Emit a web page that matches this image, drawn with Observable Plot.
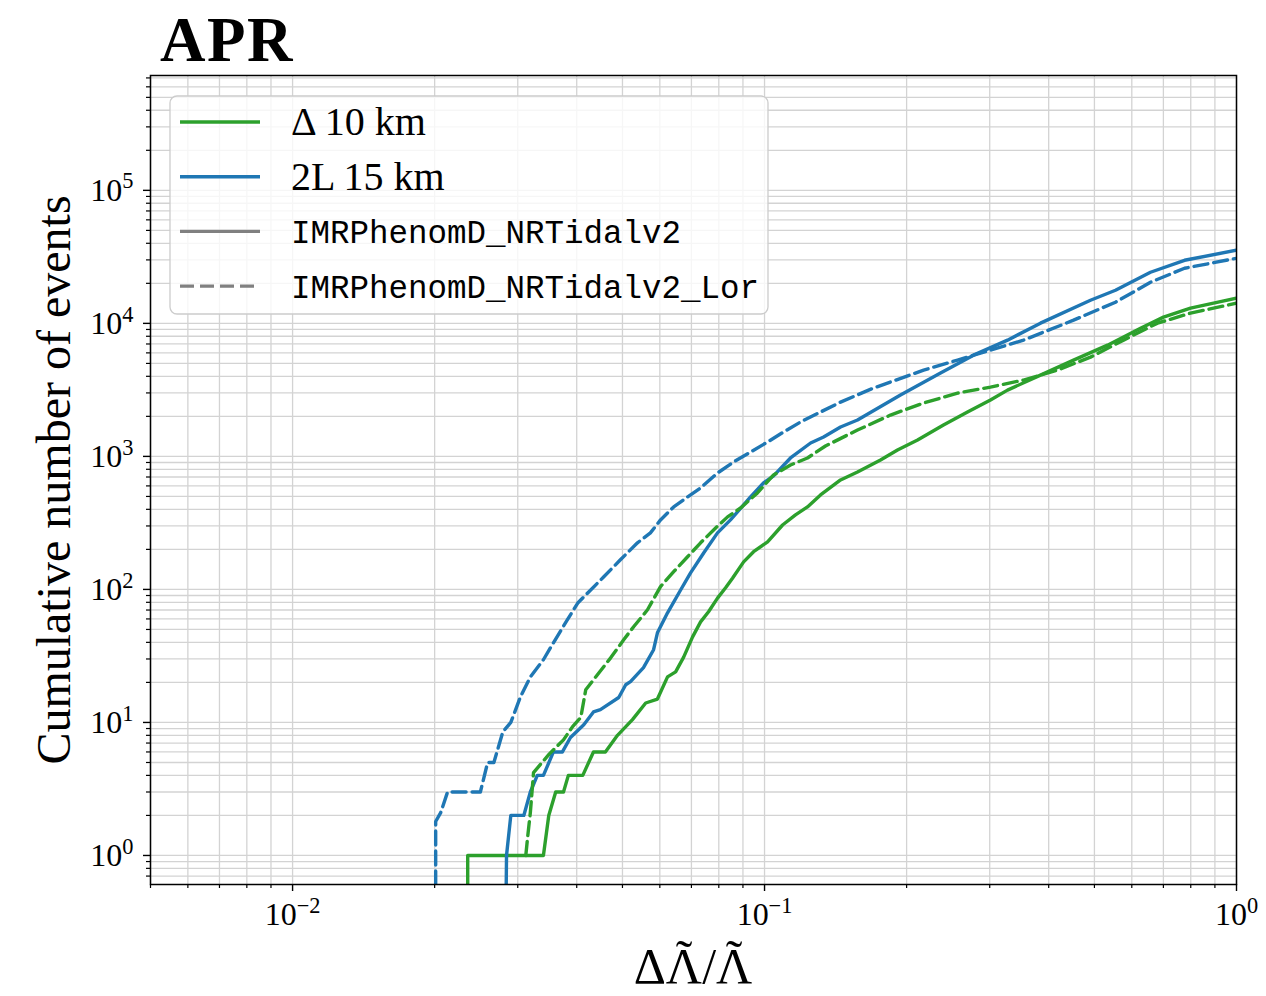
<!DOCTYPE html>
<html>
<head>
<meta charset="utf-8">
<script src="https://cdn.jsdelivr.net/npm/d3@7"></script>
<script src="https://cdn.jsdelivr.net/npm/@observablehq/plot@0.6"></script>
<style>
  body { margin: 0; background: #fff; }
  #title { height: 71px; box-sizing: border-box; padding-top: 9px; padding-left: 160px;
           font: bold 63px "Liberation Serif", serif; line-height: 63px; color: #000; letter-spacing: 1.5px; }
  #chart svg { display: block; }
</style>
</head>
<body>
<div id="title">APR</div>
<div id="chart"></div>
<script>
// ---------- data ----------
const greenSolidX = [0.0235,0.0235,0.0340,0.0349,0.0361,0.0375,0.0384,0.0412,0.0434,0.0460,0.0488,0.0525,0.0560,0.0593,0.0623,0.0648,0.0674,0.0704,0.0732,0.0761,0.0795,0.0827,0.0856,0.0903,0.0948,0.1015,0.1092,0.1163,0.1233,0.1314,0.1449,0.1574,0.1761,0.1913,0.2110,0.2394,0.2692,0.3011,0.3272,0.3843,0.4516,0.5330,0.6261,0.7003,0.7990,0.8939,1.0];
const greenSolidY = [0.3,1,1,2,3,3,4,4,6,6,8,10.5,14,15,22,24,31,44,57,68,86,103,122,161,192,228,305,363,417,513,665,764,940,1117,1328,1720,2155,2650,3150,4080,5290,6860,9200,11140,13000,14190,15500];

const greenDashX = [0.0312,0.0315,0.0319,0.0324,0.0350,0.0375,0.0392,0.0408,0.0418,0.0434,0.0472,0.0503,0.0528,0.0565,0.0602,0.0642,0.0687,0.0732,0.0780,0.0835,0.0890,0.0966,0.1045,0.1135,0.1233,0.1346,0.1574,0.1849,0.2173,0.2564,0.3011,0.3538,0.4176,0.4905,0.5762,0.6802,0.7990,1.0];
const greenDashY = [1,1.4,2.1,4.2,5.8,7.4,9.3,10.9,17.6,20.9,30.6,41.8,52.4,70.3,105,136,176,224,280,351,410,531,725,861,973,1197,1578,2046,2518,2992,3319,3748,4454,5575,7480,10040,11930,14180];

const blueSolidX = [0.0283,0.0284,0.0290,0.0309,0.0319,0.0330,0.0340,0.0357,0.0373,0.0388,0.0414,0.0434,0.0449,0.0491,0.0508,0.0520,0.0554,0.0582,0.0593,0.0623,0.0664,0.0697,0.0743,0.0795,0.0847,0.0934,0.0995,0.1045,0.1135,0.1252,0.1334,0.1449,0.1574,0.1941,0.2360,0.2772,0.3272,0.3843,0.4905,0.5541,0.6573,0.7760,1.0];
const blueSolidY = [0.3,1,2,2,3,4,4,6,6,7.7,9.6,12,12.5,15.4,19.2,20.3,25.8,35.2,47.2,66.7,99,133,188,266,333,496,631,713,973,1261,1399,1662,1876,2891,4227,5770,7480,10040,14930,17750,24230,29800,35460];

const blueDashX = [0.0201,0.0201,0.0206,0.0213,0.0250,0.0259,0.0267,0.0279,0.0290,0.0304,0.0319,0.0340,0.0357,0.0382,0.0402,0.0422,0.0456,0.0495,0.0538,0.0573,0.0602,0.0642,0.0687,0.0732,0.0795,0.0860,0.0934,0.1015,0.1097,0.1192,0.1314,0.1449,0.1702,0.2173,0.2564,0.3011,0.3538,0.4516,0.5541,0.6573,0.7760,1.0];
const blueDashY = [0.3,1.8,2.1,3,3,5,5,8.5,10,15.6,22,29.6,39.7,59,79,94,124,167,224,266,333,417,496,579,750,908,1079,1283,1525,1813,2155,2561,3263,4454,5292,6290,7480,10570,14420,20380,25950,30850];

const xDomain = [0.005, 1];
const yDomain = [0.605, 7.3e5];
const xMajor = [0.01, 0.1, 1];
const xMajorLabels = ["10|−2", "10|−1", "10|0"];
const yMajor = [1, 10, 100, 1000, 10000, 100000];
const yMajorLabels = ["10|0", "10|1", "10|2", "10|3", "10|4", "10|5"];

const legendLabels = ["Δ\u200910 km", "2L\u200915 km", "IMRPhenomD_NRTidalv2", "IMRPhenomD_NRTidalv2_Lor"];
const legendColors = ["#2ca02c", "#1f77b4", "#808080", "#808080"];
const legendDashed = [false, false, false, true];
const legendMono = [false, false, true, true];

const xLabelParts = ["Δ", "Λ", "/", "Λ"];
const xLabelTilde = [false, true, false, true];
const yLabel = "Cumulative number of events";

// ---------- helpers ----------
const rows = (xs, ys) => xs.map((x, i) => ({x, y: ys[i]}));
function minorTicks(lo, hi) {
  const out = [];
  for (let e = Math.floor(Math.log10(lo)); e <= Math.ceil(Math.log10(hi)); e++) {
    for (let k = 2; k <= 9; k++) {
      const v = k * Math.pow(10, e);
      if (v >= lo && v <= hi) out.push(v);
    }
  }
  return out;
}
const xMinor = minorTicks(xDomain[0], xDomain[1]);
const yMinor = minorTicks(yDomain[0], yDomain[1]);

const GREEN = "#2ca02c", BLUE = "#1f77b4";
const LW = 3.4, DASH = "14,6";
const gridStyle = {stroke: "#d3d3d3", strokeOpacity: 1, strokeWidth: 1.3};

const chart = Plot.plot({
  width: 1266,
  height: 925,
  marginLeft: 150,
  marginRight: 30,
  marginTop: 4,
  marginBottom: 112,
  style: {fontFamily: "'Liberation Serif', serif", background: "white", color: "black", overflow: "visible"},
  x: {type: "log", domain: xDomain},
  y: {type: "log", domain: yDomain},
  marks: [
    Plot.gridX(xMinor.concat(xMajor), gridStyle),
    Plot.gridY(yMinor.concat(yMajor), gridStyle),
    Plot.line(rows(greenSolidX, greenSolidY), {x: "x", y: "y", stroke: GREEN, strokeWidth: LW, clip: true}),
    Plot.line(rows(blueSolidX, blueSolidY), {x: "x", y: "y", stroke: BLUE, strokeWidth: LW, clip: true}),
    Plot.line(rows(greenDashX, greenDashY), {x: "x", y: "y", stroke: GREEN, strokeWidth: LW, strokeDasharray: DASH, clip: true}),
    Plot.line(rows(blueDashX, blueDashY), {x: "x", y: "y", stroke: BLUE, strokeWidth: LW, strokeDasharray: DASH, clip: true}),
    Plot.frame({stroke: "black", strokeWidth: 1.5}),
    Plot.axisX(xMinor, {label: null, tickSize: 4, tickFormat: () => "", strokeWidth: 1.2}),
    Plot.axisX(xMajor, {label: null, tickSize: 7, tickPadding: 11, fontSize: 32, strokeWidth: 1.4,
      tickFormat: d => xMajorLabels[xMajor.indexOf(d)]}),
    Plot.axisY(yMinor, {label: null, tickSize: 4, tickFormat: () => "", strokeWidth: 1.2}),
    Plot.axisY(yMajor, {label: null, tickSize: 7, tickPadding: 10, fontSize: 32, strokeWidth: 1.4,
      tickFormat: d => yMajorLabels[yMajor.indexOf(d)]})
  ]
});
document.getElementById("chart").appendChild(chart);

const svg = d3.select(chart);

// superscript tick labels
svg.selectAll('g[aria-label$="tick label"] text').each(function () {
  const s = this.textContent;
  if (!s || s.indexOf("|") < 0) return;
  const [base, exp] = s.split("|");
  const t = d3.select(this);
  t.text(null);
  t.append("tspan").text(base);
  t.append("tspan").attr("dy", "-0.54em").attr("font-size", "0.7em").text(exp);
});

// x axis title: one text element, tildes placed over the Lambdas with tspans
const XFS = 50, TILDE = "˜", TILDE_RAISE = 8;
function measure(str) {
  const t = svg.append("text").attr("font-family", "'Liberation Serif', serif")
    .attr("font-size", XFS).attr("text-anchor", "start").text(str);
  const w = t.node().getComputedTextLength();
  t.remove();
  return w;
}
const partW = xLabelParts.map(measure);
const tildeW = measure(TILDE);
const totalW = d3.sum(partW);
const xl = svg.append("text")
  .attr("x", 693 - totalW / 2).attr("y", 912)
  .attr("text-anchor", "start")
  .attr("font-family", "'Liberation Serif', serif")
  .attr("font-size", XFS);
let pendingDx = 0, pendingDy = 0;
xLabelParts.forEach((p, i) => {
  const ts = xl.append("tspan").text(p);
  if (pendingDx || pendingDy) { ts.attr("dx", pendingDx).attr("dy", pendingDy); pendingDx = 0; pendingDy = 0; }
  if (xLabelTilde[i]) {
    xl.append("tspan").text(TILDE)
      .attr("dx", -(partW[i] + tildeW) / 2).attr("dy", -TILDE_RAISE);
    pendingDx = (partW[i] - tildeW) / 2;
    pendingDy = TILDE_RAISE;
  }
});

svg.append("text")
  .attr("transform", "translate(70,409) rotate(-90)")
  .attr("text-anchor", "middle")
  .attr("font-family", "'Liberation Serif', serif")
  .attr("font-size", 48)
  .text(yLabel);

// legend
const lg = svg.append("g").attr("aria-label", "legend");
lg.append("rect")
  .attr("x", 170).attr("y", 25).attr("width", 598).attr("height", 218).attr("rx", 7)
  .attr("fill", "white").attr("fill-opacity", 0.8)
  .attr("stroke", "#cccccc").attr("stroke-width", 1.3);
legendLabels.forEach((lab, i) => {
  const cy = 51 + i * 54.7;
  lg.append("line")
    .attr("x1", 180).attr("x2", 260).attr("y1", cy).attr("y2", cy)
    .attr("stroke", legendColors[i]).attr("stroke-width", LW)
    .attr("stroke-dasharray", legendDashed[i] ? DASH : null);
  lg.append("text")
    .attr("x", 291).attr("y", cy + (legendMono[i] ? 12 : 13))
    .attr("text-anchor", "start")
    .attr("font-family", legendMono[i] ? "'Liberation Mono', monospace" : "'Liberation Serif', serif")
    .attr("font-size", legendMono[i] ? 32.5 : 40)
    .text(lab);
});
</script>
</body>
</html>
